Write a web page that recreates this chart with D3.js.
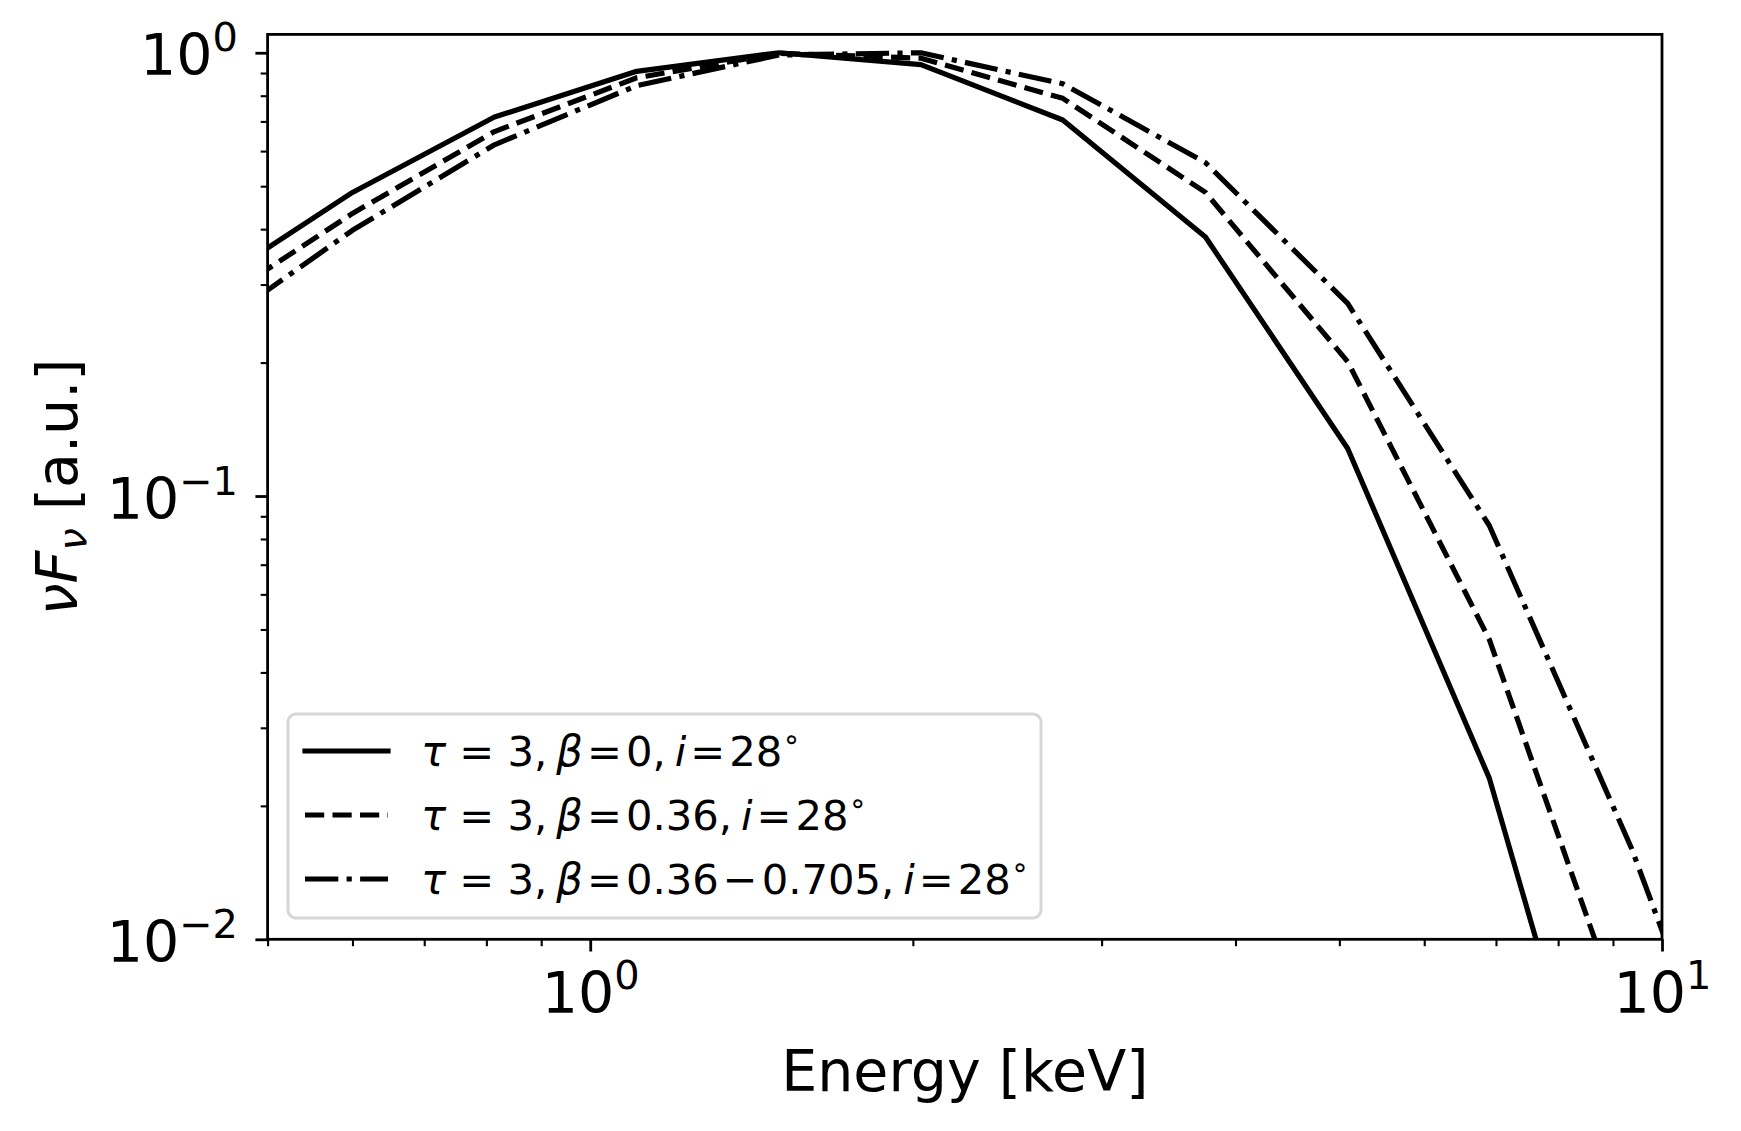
<!DOCTYPE html>
<html><head><meta charset="utf-8">
<script src="https://cdn.jsdelivr.net/npm/d3@7"></script>
<style>
body{margin:0;background:#fff;}
svg{display:block;font-family:"DejaVu Sans";}
</style>
</head><body>
<svg id="chart" width="1741" height="1131"></svg>
<script>
// ---------------- data ----------------
const energy        = [0.442, 0.6, 0.814, 1.105, 1.5, 2.035, 2.76, 3.75, 5.09, 6.9, 9.37, 12.7];
const fluxBeta0     = [0.2985, 0.484, 0.716, 0.908, 1.0, 0.940, 0.705, 0.384, 0.128, 0.0231, 0.0018, 0.0001];
const fluxBeta036   = [0.2675, 0.434, 0.664, 0.878, 0.997, 0.972, 0.789, 0.484, 0.201, 0.0475, 0.0058, 0.0005];
const fluxBetaRange = [0.236, 0.3976, 0.620, 0.843, 0.988, 1.0, 0.851, 0.565, 0.272, 0.0858, 0.0160, 0.0022];
const betaLabels    = [["0"], ["0.36"], ["0.36", "\u2212", "0.705"]];
const xMajorTicks   = [1, 10];
const xMajorExp     = ["0", "1"];
const xMinorTicks   = [0.5, 0.6, 0.7, 0.8, 0.9, 2, 3, 4, 5, 6, 7, 8, 9];
const yMajorTicks   = [0.01, 0.1, 1];
const yMajorExp     = ["\u22122", "\u22121", "0"];
const yMinorTicks   = [0.02,0.03,0.04,0.05,0.06,0.07,0.08,0.09,0.2,0.3,0.4,0.5,0.6,0.7,0.8,0.9];
const xLabelText    = "Energy [keV]";

// ---------------- layout ----------------
const W = 1741, H = 1131;
const L = 267.6, R = 1662, T = 34.4, B = 939.3;
const svg = d3.select("#chart");
const x = d3.scaleLog().domain([0.5, 10]).range([L, R]);
const y = d3.scaleLog().domain([0.01, 1.1]).range([B, T]);
const FS = 57, LFS = 41.7;
const LW = 5.2, SPW = 2.8;

svg.append("rect").attr("width", W).attr("height", H).attr("fill", "#fff");

svg.append("clipPath").attr("id", "clip")
  .append("rect").attr("x", L).attr("y", T).attr("width", R - L).attr("height", B - T);

// lines
const series = [
  {vals: fluxBeta0, dash: null},
  {vals: fluxBeta036, dash: "19.2,8.3"},
  {vals: fluxBetaRange, dash: "33.3,8.3,5.2,8.3"}
];
const line = d3.line().x(d => x(d[0])).y(d => y(d[1]));
const gLines = svg.append("g").attr("clip-path", "url(#clip)");
series.forEach(s => {
  gLines.append("path")
    .attr("d", line(energy.map((e, i) => [e, s.vals[i]])))
    .attr("fill", "none").attr("stroke", "#000").attr("stroke-width", LW)
    .attr("stroke-linejoin", "round")
    .attr("stroke-linecap", s.dash ? "butt" : "square")
    .attr("stroke-dasharray", s.dash);
});

// axes
function styleAxis(g, w) {
  g.select(".domain").remove();
  g.selectAll(".tick line").attr("stroke", "#000").attr("stroke-width", w);
}
const gxMinor = svg.append("g").attr("transform", `translate(0,${B})`)
  .call(d3.axisBottom(x).tickValues(xMinorTicks).tickSize(6.9).tickFormat(""));
styleAxis(gxMinor, 2.1);
const gxMajor = svg.append("g").attr("transform", `translate(0,${B})`)
  .call(d3.axisBottom(x).tickValues(xMajorTicks).tickSize(12.2));
styleAxis(gxMajor, SPW);
gxMajor.selectAll(".tick text").each(function(d, i) {
  const t = d3.select(this);
  t.text(null).attr("y", 74).attr("dy", null).attr("fill", "#000")
    .attr("font-size", FS).attr("font-family", "DejaVu Sans").attr("text-anchor", "middle");
  t.append("tspan").text("10");
  t.append("tspan").attr("font-size", FS * 0.7).attr("dy", -24).text(xMajorExp[i]);
});

const gyMinor = svg.append("g").attr("transform", `translate(${L},0)`)
  .call(d3.axisLeft(y).tickValues(yMinorTicks).tickSize(6.9).tickFormat(""));
styleAxis(gyMinor, 2.1);
const gyMajor = svg.append("g").attr("transform", `translate(${L},0)`)
  .call(d3.axisLeft(y).tickValues(yMajorTicks).tickSize(12.2));
styleAxis(gyMajor, SPW);
gyMajor.selectAll(".tick text").each(function(d, i) {
  const t = d3.select(this);
  t.text(null).attr("x", -29.6).attr("y", 22).attr("dy", null).attr("fill", "#000")
    .attr("font-size", FS).attr("font-family", "DejaVu Sans").attr("text-anchor", "end");
  t.append("tspan").text("10");
  t.append("tspan").attr("font-size", FS * 0.7).attr("dy", -24).text(yMajorExp[i]);
});

// spines
svg.append("rect").attr("x", L).attr("y", T).attr("width", R - L).attr("height", B - T)
  .attr("fill", "none").attr("stroke", "#000").attr("stroke-width", SPW);

// axis labels
svg.append("text").attr("x", (L + R) / 2).attr("y", 1091).attr("text-anchor", "middle")
  .attr("font-size", FS).text(xLabelText);

const yl = svg.append("text").attr("transform", `translate(77,${(T + B) / 2}) rotate(-90)`)
  .attr("text-anchor", "middle").attr("font-size", FS);
yl.append("tspan").attr("font-style", "italic").text("\u03BDF");
yl.append("tspan").attr("font-style", "italic").attr("font-size", FS * 0.7).attr("dy", 9).text("\u03BD");
yl.append("tspan").attr("dy", -9).text(" [a.u.]");

// legend
const lg = svg.append("g");
lg.append("rect").attr("x", 288).attr("y", 714).attr("width", 753).attr("height", 204)
  .attr("rx", 8).attr("ry", 8)
  .attr("fill", "#fff").attr("fill-opacity", 0.8)
  .attr("stroke", "#ccc").attr("stroke-opacity", 0.8).attr("stroke-width", 3);
const rowY = [751, 815, 879];
const gap = 4;
series.forEach((s, i) => {
  const cy = rowY[i];
  lg.append("line").attr("x1", 305).attr("x2", 388).attr("y1", cy).attr("y2", cy)
    .attr("stroke", "#000").attr("stroke-width", LW)
    .attr("stroke-linecap", s.dash ? "butt" : "square")
    .attr("stroke-dasharray", s.dash);
  const t = lg.append("text").attr("x", 421).attr("y", cy + 15).attr("font-size", LFS);
  t.append("tspan").attr("font-style", "italic").text("\u03C4");
  t.append("tspan").text(" =  3,");
  t.append("tspan").attr("dx", 9).attr("font-style", "italic").text("\u03B2");
  t.append("tspan").attr("dx", gap).text("=");
  betaLabels[i].forEach(p => t.append("tspan").attr("dx", gap).text(p));
  t.append("tspan").text(",");
  t.append("tspan").attr("dx", 9).attr("font-style", "italic").text("i");
  t.append("tspan").attr("dx", gap).text("=");
  t.append("tspan").attr("dx", gap).text("28");
  t.append("tspan").attr("font-size", LFS * 0.7).attr("dy", -17).text("\u2218");
});
</script>
</body></html>
